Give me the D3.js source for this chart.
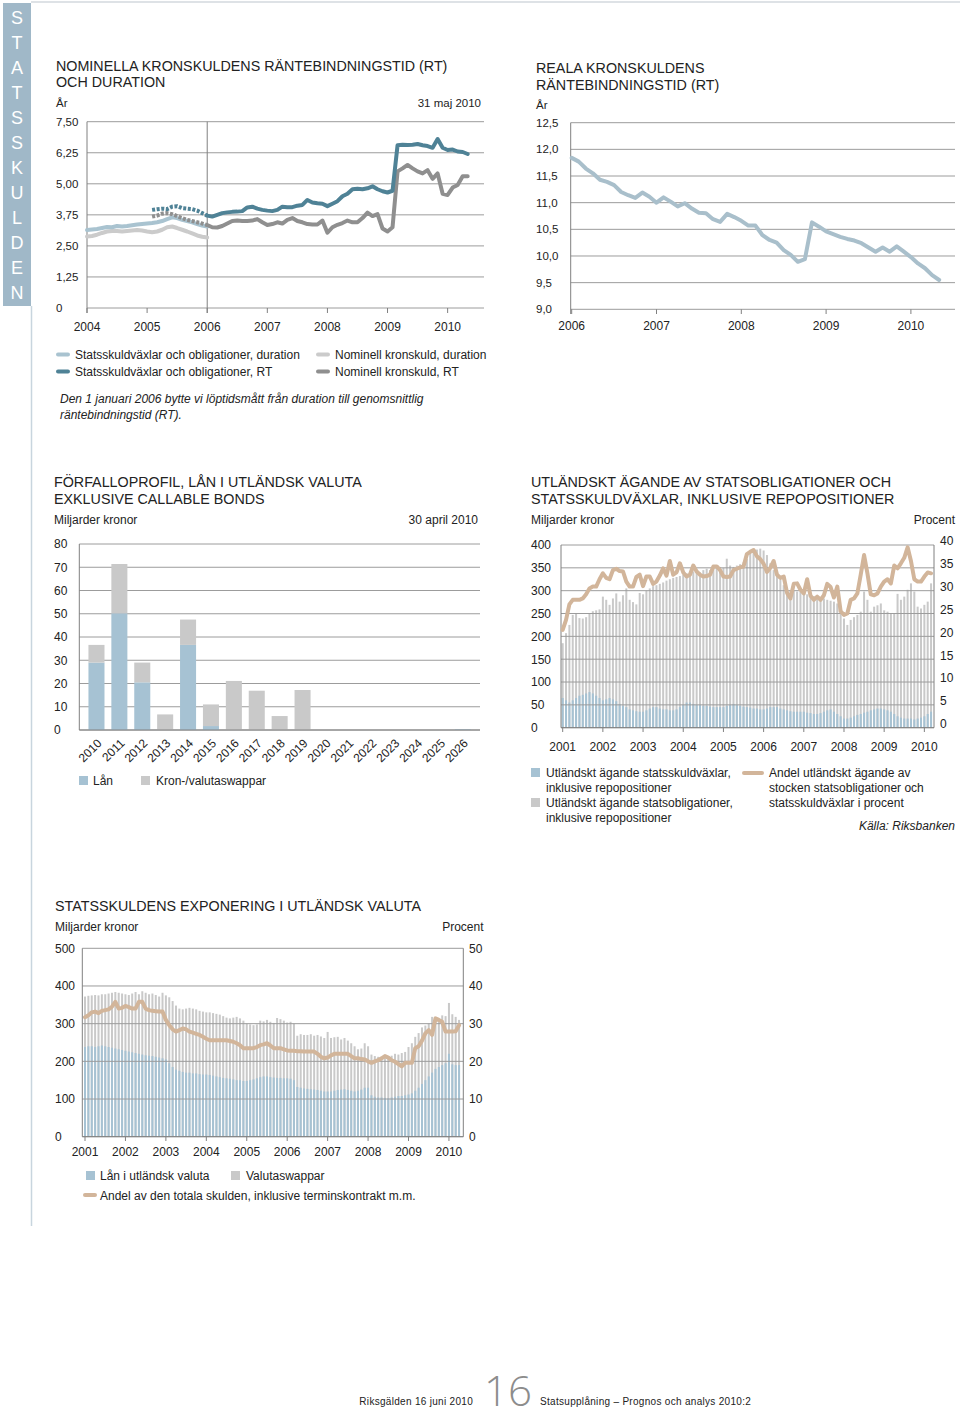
<!DOCTYPE html>
<html><head><meta charset="utf-8">
<script src="https://cdn.jsdelivr.net/npm/d3@7"></script>
<style>
html,body{margin:0;padding:0;background:#fff;}
svg text{font-family:"Liberation Sans", Arial, Helvetica, sans-serif; fill:#222;}
</style></head><body>
<svg id="page" width="960" height="1421"></svg>
<script>
// ---------------- DATA ----------------
const sideLetters = "STATSSKULDEN".split("");

// Chart 1: Nominella kronskuldens räntebindningstid och duration (monthly)
const c1YearTicks = [2004, 2005, 2006, 2007, 2008, 2009, 2010];
const c1ValueTicks = [0, 1.25, 2.5, 3.75, 5, 6.25, 7.5];
const c1ValueLabels = ["0", "1,25", "2,50", "3,75", "5,00", "6,25", "7,50"];
const durationStart = 2004;            // Jan 2004
const bondsDuration = [3.14,3.16,3.18,3.22,3.26,3.25,3.3,3.28,3.3,3.33,3.36,3.38,
  3.4,3.42,3.45,3.5,3.58,3.65,3.62,3.55,3.5,3.45,3.38,3.32,3.28];
const nominalDuration = [2.88,2.9,2.95,3.02,3.08,3.1,3.1,3.08,3.1,3.12,3.14,3.12,
  3.08,3.05,3.08,3.15,3.25,3.28,3.22,3.15,3.08,3.0,2.92,2.87,2.84];
const rtStart = 2005 + 1/12;          // Feb 2005
const rtSwitch = 11;                   // index of Jan 2006
const bondsRT = [3.95,3.98,4.0,3.98,4.08,4.1,4.02,4.0,3.98,3.92,3.82,
  3.72,3.68,3.75,3.82,3.85,3.87,3.88,3.9,4.05,4.08,4.0,3.95,
  3.92,3.9,3.95,4.08,4.06,4.06,4.12,4.15,4.35,4.25,4.22,4.2,
  4.1,4.2,4.3,4.5,4.6,4.78,4.8,4.78,4.82,4.9,4.78,4.7,
  4.65,4.72,6.55,6.57,6.56,6.57,6.6,6.55,6.52,6.45,6.8,6.45,
  6.36,6.38,6.3,6.28,6.2];
const nominalRT = [3.68,3.72,3.8,3.82,3.78,3.7,3.62,3.55,3.5,3.45,3.4,
  3.34,3.25,3.24,3.3,3.4,3.5,3.52,3.5,3.5,3.52,3.58,3.45,
  3.34,3.38,3.45,3.4,3.55,3.62,3.5,3.45,3.38,3.36,3.36,3.52,
  3.03,3.25,3.35,3.42,3.52,3.45,3.45,3.62,3.84,3.7,3.78,3.2,
  3.08,3.25,5.5,5.62,5.76,5.62,5.5,5.42,5.55,5.2,5.42,4.6,
  4.55,4.85,4.95,5.3,5.3];
const c1Legend = [
  ["Statsskuldväxlar och obligationer, duration", "lblue"],
  ["Statsskuldväxlar och obligationer, RT", "teal"],
  ["Nominell kronskuld, duration", "lgrey"],
  ["Nominell kronskuld, RT", "dgrey"]];

// Chart 2: Reala kronskuldens RT (monthly from Jan 2006)
const c2YearTicks = [2006, 2007, 2008, 2009, 2010];
const c2ValueTicks = [9, 9.5, 10, 10.5, 11, 11.5, 12, 12.5];
const c2ValueLabels = ["9,0","9,5","10,0","10,5","11,0","11,5","12,0","12,5"];
const realStart = 2006;
const realRT = [11.84,11.77,11.64,11.55,11.43,11.39,11.33,11.2,11.14,11.09,11.19,11.11,
  11.0,11.1,11.02,10.93,10.99,10.89,10.81,10.8,10.69,10.64,10.79,10.73,
  10.66,10.57,10.57,10.39,10.3,10.25,10.11,10.02,9.89,9.94,10.63,10.55,
  10.46,10.41,10.36,10.32,10.29,10.24,10.16,10.08,10.16,10.08,10.18,10.08,
  9.98,9.86,9.77,9.64,9.55];

// Chart 3: Förfalloprofil
const c3Years = ["2010","2011","2012","2013","2014","2015","2016","2017","2018",
  "2019","2020","2021","2022","2023","2024","2025","2026"];
const c3Loans = [29, 50.2, 20.5, 0, 36.6, 1.7, 0, 0, 0, 0, 0, 0, 0, 0, 0, 0, 0.3];
const c3Swaps = [7.6, 21.2, 8.5, 6.7, 10.9, 9.3, 21.1, 16.9, 6.0, 17.2, 0, 0, 0, 0, 0, 0, 0];
const c3Ticks = [0,10,20,30,40,50,60,70,80];

// Chart 4: Utländskt ägande (monthly Jan 2001 - Mar 2010)
const c4Start = 2001;
const c4YearTicks = [2001,2002,2003,2004,2005,2006,2007,2008,2009,2010];
const c4LeftTicks = [0,50,100,150,200,250,300,350,400];
const c4RightTicks = [0,5,10,15,20,25,30,35,40];
const c4Bonds = [185,207,225,247,250,240,239,242,251,255,257,259,
  287,280,269,283,294,276,290,305,280,275,270,295,
  292,300,305,310,312,315,318,322,325,328,330,332,
  335,338,340,342,343,340,345,348,345,347,350,352,
  350,370,355,352,355,358,362,370,385,390,390,392,
  388,378,360,345,335,324,312,302,300,300,298,298,
  295,292,290,288,285,283,283,280,278,276,272,262,
  239,225,236,242,247,254,298,280,254,265,268,272,
  257,254,250,250,293,280,287,302,316,298,265,261,
  269,276,316];
const c4Bills = [65,60,55,60,65,70,72,75,78,75,70,65,
  60,62,65,62,58,52,48,45,40,38,36,35,
  35,38,42,45,45,42,40,40,38,38,40,45,
  50,55,55,52,50,50,48,48,46,45,45,45,
  45,48,50,52,50,48,46,45,44,42,42,40,
  40,42,45,45,45,42,40,38,36,35,35,35,
  35,33,32,30,30,32,35,38,40,35,30,25,
  20,20,22,25,28,30,33,35,38,40,42,42,
  40,38,35,30,25,22,20,20,20,18,20,22,
  25,30,35];
const c4Share = [21.4,23.6,27.0,28.0,28.0,28.0,28.3,29.2,30.5,30.9,30.9,32.5,
  33.8,32.8,32.5,34.5,34.8,34.3,34.2,32.0,30.9,30.9,33.0,33.5,
  31.0,33.1,33.1,31.5,32.0,33.3,34.9,33.3,36.5,33.5,34.0,36.0,
  34.0,33.1,33.5,35.5,34.2,33.5,33.1,33.2,33.5,35.3,35.3,34.5,
  33.1,33.0,33.1,34.5,34.8,35.1,35.3,38.0,38.5,38.9,37.5,36.9,
  35.9,34.1,35.0,36.5,33.5,32.8,33.1,29.5,28.3,31.5,31.6,30.2,
  29.4,32.5,28.9,28.0,28.7,28.0,29.0,31.5,30.8,28.5,30.9,25.5,
  24.7,25.0,28.0,28.3,29.4,33.5,37.8,33.8,29.2,29.0,29.4,30.9,
  32.0,32.5,31.6,35.5,34.9,36.0,37.2,39.5,36.5,32.5,32.0,32.0,
  33.1,34.0,33.8];

// Chart 5: Exponering i utländsk valuta (monthly Jan 2001 - Apr 2010)
const c5Start = 2001;
const c5YearTicks = [2001,2002,2003,2004,2005,2006,2007,2008,2009,2010];
const c5LeftTicks = [0,100,200,300,400,500];
const c5RightTicks = [0,10,20,30,40,50];
const c5Total = [372,374,375,376,375,378,378,380,382,384,382,380,
  378,376,380,384,378,386,382,378,380,376,372,382,
  375,370,360,348,340,338,340,342,340,338,334,332,
  330,330,328,326,324,320,316,314,316,318,314,308,
  300,298,296,298,308,306,310,305,302,315,312,308,
  303,305,300,268,272,270,270,272,268,270,266,262,
  278,262,264,265,258,262,255,248,240,232,234,248,
  240,218,214,212,210,212,210,215,220,218,222,225,
  238,248,265,275,290,295,300,318,315,312,322,320,
  355,325,318,310];
const c5Loans = [238,240,240,238,240,242,240,238,236,234,232,230,
  228,226,224,222,220,218,216,215,214,212,210,208,
  205,195,185,178,175,172,170,170,168,168,166,165,
  165,164,162,160,158,156,155,154,152,150,150,148,
  148,150,152,155,158,160,160,158,157,156,156,155,
  155,154,150,132,130,128,127,126,125,124,122,120,
  120,120,122,124,125,126,124,122,120,122,125,130,
  130,110,106,104,104,103,102,104,106,108,108,110,
  112,115,122,130,140,150,160,170,180,185,190,195,
  220,192,190,190];
const c5Share = [31.7,32.2,33.0,33.2,32.8,33.4,33.6,33.8,34.5,35.8,34.0,34.2,
  34.7,34.4,34.0,34.0,35.8,35.8,34.0,33.6,33.4,33.3,33.2,33.2,
  31.0,29.6,28.5,27.9,28.3,28.7,28.5,27.9,27.6,27.3,27.0,26.5,
  26.0,25.6,25.6,25.6,25.6,25.6,25.6,25.4,25.2,24.8,24.3,23.5,
  23.5,23.5,23.5,23.8,24.3,24.5,24.8,24.2,23.5,23.5,23.5,23.2,
  22.9,22.8,22.8,22.7,22.7,22.6,22.6,22.6,22.6,22.0,21.2,20.8,
  21.0,21.6,22.0,22.0,22.0,22.0,22.0,21.4,20.8,20.8,20.6,20.5,
  20.0,19.6,20.0,20.3,20.8,21.4,21.0,20.3,19.9,19.3,18.7,19.6,
  19.6,19.6,23.5,24.0,25.5,27.4,28.3,27.0,31.4,31.0,30.5,27.9,
  27.9,27.9,28.0,29.6];

// ---------------- STYLE ----------------
const COL = {
  grid: "#9c9c9c", axis: "#808080",
  teal: "#4f8296", dgrey: "#8f8f8f", lblue: "#a9c3d0", lgrey: "#cbcbcb",
  real: "#a9bfcb", barBlue: "#a6c2d3", barGrey: "#c9c9c9", tan: "#d2b59a",
  side: "#a0b8c8"
};
const svg = d3.select("#page");

function txt(x, y, s, o = {}) {
  const t = svg.append("text").attr("x", x).attr("y", y).text(s)
    .attr("font-size", o.size || 12);
  if (o.anchor) t.attr("text-anchor", o.anchor);
  if (o.italic) t.attr("font-style", "italic");
  if (o.fill) t.style("fill", o.fill);
  if (o.family) t.style("font-family", o.family);
  if (o.weight) t.attr("font-weight", o.weight);
  if (o.ls) t.attr("letter-spacing", o.ls);
  return t;
}
function hline(x1, x2, y, c, w = 1) {
  svg.append("line").attr("x1", x1).attr("x2", x2).attr("y1", y).attr("y2", y)
    .attr("stroke", c).attr("stroke-width", w);
}
function vline(x, y1, y2, c, w = 1) {
  svg.append("line").attr("x1", x).attr("x2", x).attr("y1", y1).attr("y2", y2)
    .attr("stroke", c).attr("stroke-width", w);
}
function monthly(arr, start) { return arr.map((v, i) => ({t: start + i / 12, v})); }
function drawLine(data, x, y, color, w, dash) {
  const p = svg.append("path").datum(data)
    .attr("d", d3.line().x(d => x(d.t)).y(d => y(d.v)))
    .attr("fill", "none").attr("stroke", color).attr("stroke-width", w)
    .attr("stroke-linejoin", "round").attr("stroke-linecap", dash ? "butt" : "round");
  if (dash) p.attr("stroke-dasharray", dash);
}
const TITLE = 14.3;

// ---------------- PAGE FRAME ----------------
svg.append("rect").attr("x", 3).attr("y", 3).attr("width", 28).attr("height", 303).attr("fill", COL.side);
hline(31, 960, 2, "#d3d9de", 1.5);
vline(31.5, 306, 1226, "#c8d5de", 1.5);
sideLetters.forEach((ch, i) => {
  txt(17, 18 + i * 25, ch, {size: 18, anchor: "middle", fill: "#fff"}).attr("dy", "0.36em");
});

// ---------------- CHART 1 ----------------
{
  const x = d3.scaleLinear().domain([2004, 2010.6]).range([87, 483.7]);
  const y = d3.scaleLinear().domain([0, 7.5]).range([308, 121.7]);
  txt(56, 70.5, "NOMINELLA KRONSKULDENS RÄNTEBINDNINGSTID (RT)", {size: TITLE});
  txt(56, 86.5, "OCH DURATION", {size: TITLE});
  txt(56, 106.5, "År", {size: 11.5});
  txt(481, 106.5, "31 maj 2010", {size: 11.5, anchor: "end"});
  c1ValueTicks.forEach((v, i) => {
    hline(87, 484, y(v), COL.grid);
    txt(56, y(v), c1ValueLabels[i], {size: 11.5}).attr("dy", "0.36em");
  });
  vline(87, y(7.5), 313, COL.axis);
  vline(x(2006), y(7.5), 313, COL.axis);
  c1YearTicks.forEach(yr => {
    vline(x(yr), 308, 313, COL.axis);
    txt(x(yr), 330.5, String(yr), {size: 12, anchor: "middle"});
  });
  drawLine(monthly(nominalDuration, durationStart), x, y, COL.lgrey, 4);
  drawLine(monthly(bondsDuration, durationStart), x, y, COL.lblue, 4);
  const nRT = monthly(nominalRT, rtStart), bRT = monthly(bondsRT, rtStart);
  drawLine(nRT.slice(0, rtSwitch + 1), x, y, COL.dgrey, 4, "3,1.6");
  drawLine(nRT.slice(rtSwitch), x, y, COL.dgrey, 4);
  drawLine(bRT.slice(0, rtSwitch + 1), x, y, COL.teal, 4, "3,1.6");
  drawLine(bRT.slice(rtSwitch), x, y, COL.teal, 4);

  // legend
  c1Legend.forEach((d, i) => {
    const lx = i < 2 ? 58 : 318, ly = i % 2 === 0 ? 354.5 : 371.5;
    svg.append("line").attr("x1", lx).attr("x2", lx + 10).attr("y1", ly).attr("y2", ly)
      .attr("stroke", COL[d[1]]).attr("stroke-width", 4).attr("stroke-linecap", "round");
    txt(lx + 17, ly, d[0], {size: 12}).attr("dy", "0.36em");
  });
  txt(60, 403, "Den 1 januari 2006 bytte vi löptidsmått från duration till genomsnittlig", {size: 12, italic: true});
  txt(60, 419, "räntebindningstid (RT).", {size: 12, italic: true});
}

// ---------------- CHART 2 ----------------
{
  const x = d3.scaleLinear().domain([2006, 2010.52]).range([571.7, 955]);
  const y = d3.scaleLinear().domain([9, 12.5]).range([309.3, 122.7]);
  txt(536, 72.5, "REALA KRONSKULDENS", {size: TITLE});
  txt(536, 90, "RÄNTEBINDNINGSTID (RT)", {size: TITLE});
  txt(536, 109, "År", {size: 11.5});
  c2ValueTicks.forEach((v, i) => {
    hline(570.7, 955, y(v), COL.grid);
    txt(536, y(v), c2ValueLabels[i], {size: 11.5}).attr("dy", "0.36em");
  });
  vline(570.7, y(12.5), 314, COL.axis);
  c2YearTicks.forEach(yr => {
    vline(x(yr), 309.3, 314, COL.axis);
    txt(x(yr), 329.5, String(yr), {size: 12, anchor: "middle"});
  });
  drawLine(monthly(realRT, realStart), x, y, COL.real, 4);
}

// ---------------- CHART 3 ----------------
{
  const x = d3.scaleBand().domain(c3Years).range([79.3, 480]).paddingInner(0.3).paddingOuter(0.4);
  const y = d3.scaleLinear().domain([0, 80]).range([730, 544]);
  txt(54, 487, "FÖRFALLOPROFIL, LÅN I UTLÄNDSK VALUTA", {size: TITLE});
  txt(54, 504, "EXKLUSIVE CALLABLE BONDS", {size: TITLE});
  txt(54, 524, "Miljarder kronor", {size: 12});
  txt(478, 524, "30 april 2010", {size: 12, anchor: "end"});
  c3Ticks.forEach(v => {
    hline(79.3, 480, y(v), COL.grid);
    txt(54, y(v), String(v), {size: 12}).attr("dy", "0.36em");
  });
  vline(79.3, y(80), y(0), COL.axis);
  const stack = c3Years.map((yr, i) => ({yr, loan: c3Loans[i], swap: c3Swaps[i]}));
  svg.append("g").selectAll("rect.l").data(stack).join("rect")
    .attr("x", d => x(d.yr)).attr("width", x.bandwidth())
    .attr("y", d => y(d.loan)).attr("height", d => y(0) - y(d.loan))
    .attr("fill", COL.barBlue);
  svg.append("g").selectAll("rect.s").data(stack).join("rect")
    .attr("x", d => x(d.yr)).attr("width", x.bandwidth())
    .attr("y", d => y(d.loan + d.swap)).attr("height", d => y(d.loan) - y(d.loan + d.swap))
    .attr("fill", COL.barGrey);
  hline(79.3, 480, y(0), COL.axis);
  c3Years.forEach(yr => {
    const cx = x(yr) + x.bandwidth() / 2 + 6, cy = 744;
    txt(cx, cy, yr, {size: 12, anchor: "end"}).attr("transform", `rotate(-45,${cx},${cy})`);
  });
  svg.append("rect").attr("x", 79).attr("y", 776).attr("width", 9).attr("height", 9).attr("fill", COL.barBlue);
  txt(93, 785, "Lån", {size: 12});
  svg.append("rect").attr("x", 141).attr("y", 776).attr("width", 9).attr("height", 9).attr("fill", COL.barGrey);
  txt(156, 785, "Kron-/valutaswappar", {size: 12});
}

// ---------------- CHART 4 ----------------
{
  const x = d3.scaleLinear().domain([2000.958, 2010.24]).range([561, 934]);
  const y = d3.scaleLinear().domain([0, 400]).range([727.7, 545]);
  const yp = d3.scaleLinear().domain([0, 40]).range([727.7, 545]);
  txt(531, 487, "UTLÄNDSKT ÄGANDE AV STATSOBLIGATIONER OCH", {size: TITLE});
  txt(531, 504, "STATSSKULDVÄXLAR, INKLUSIVE REPOPOSITIONER", {size: TITLE});
  txt(531, 524, "Miljarder kronor", {size: 12});
  txt(955, 524, "Procent", {size: 12, anchor: "end"});
  const bars = c4Bonds.map((v, i) => ({t: c4Start + i / 12, total: v, bills: c4Bills[i]}));
  svg.append("g").selectAll("rect").data(bars).join("rect")
    .attr("x", d => x(d.t) - 1).attr("width", 2)
    .attr("y", d => y(d.total)).attr("height", d => y(0) - y(d.total)).attr("fill", COL.barGrey);
  svg.append("g").selectAll("rect").data(bars).join("rect")
    .attr("x", d => x(d.t) - 1).attr("width", 2)
    .attr("y", d => y(d.bills)).attr("height", d => y(0) - y(d.bills)).attr("fill", COL.barBlue);
  c4LeftTicks.forEach(v => {
    hline(561, 934, y(v), COL.grid);
    txt(531, y(v), String(v), {size: 12}).attr("dy", "0.36em");
  });
  c4RightTicks.forEach(v => {
    txt(940, yp(v) - 4, String(v), {size: 12}).attr("dy", "0.36em");
  });
  vline(561, 545, 727.7, COL.axis);
  vline(934, 545, 727.7, COL.axis);
  hline(561, 934, 727.7, COL.axis);
  c4YearTicks.forEach(yr => {
    vline(x(yr), 727.7, 732, COL.axis);
    txt(x(yr), 750.5, String(yr), {size: 12, anchor: "middle"});
  });
  drawLine(monthly(c4Share, c4Start), x, yp, COL.tan, 4);
  // legend
  svg.append("rect").attr("x", 531).attr("y", 768).attr("width", 9).attr("height", 9).attr("fill", COL.barBlue);
  svg.append("rect").attr("x", 531).attr("y", 798).attr("width", 9).attr("height", 9).attr("fill", COL.barGrey);
  txt(546, 777, "Utländskt ägande statsskuldväxlar,", {size: 12});
  txt(546, 792, "inklusive repopositioner", {size: 12});
  txt(546, 807, "Utländskt ägande statsobligationer,", {size: 12});
  txt(546, 822, "inklusive repopositioner", {size: 12});
  svg.append("line").attr("x1", 744).attr("x2", 762).attr("y1", 773).attr("y2", 773)
    .attr("stroke", COL.tan).attr("stroke-width", 4).attr("stroke-linecap", "round");
  txt(769, 777, "Andel utländskt ägande av", {size: 12});
  txt(769, 792, "stocken statsobligationer och", {size: 12});
  txt(769, 807, "statsskuldväxlar i procent", {size: 12});
  txt(955, 830, "Källa: Riksbanken", {size: 12, anchor: "end", italic: true});
}

// ---------------- CHART 5 ----------------
{
  const x = d3.scaleLinear().domain([2000.933, 2010.355]).range([82.3, 463.3]);
  const y = d3.scaleLinear().domain([0, 500]).range([1136.7, 948.3]);
  const yp = d3.scaleLinear().domain([0, 50]).range([1136.7, 948.3]);
  txt(55, 911, "STATSSKULDENS EXPONERING I UTLÄNDSK VALUTA", {size: TITLE});
  txt(55, 930.5, "Miljarder kronor", {size: 12});
  txt(483.5, 930.5, "Procent", {size: 12, anchor: "end"});
  const bars = c5Total.map((v, i) => ({t: c5Start + i / 12, total: v, loans: c5Loans[i]}));
  svg.append("g").selectAll("rect").data(bars).join("rect")
    .attr("x", d => x(d.t) - 1).attr("width", 2)
    .attr("y", d => y(d.total)).attr("height", d => y(0) - y(d.total)).attr("fill", COL.barGrey);
  svg.append("g").selectAll("rect").data(bars).join("rect")
    .attr("x", d => x(d.t) - 1).attr("width", 2)
    .attr("y", d => y(d.loans)).attr("height", d => y(0) - y(d.loans)).attr("fill", COL.barBlue);
  c5LeftTicks.forEach(v => {
    hline(82.3, 463.3, y(v), COL.grid);
    txt(55, y(v), String(v), {size: 12}).attr("dy", "0.36em");
  });
  c5RightTicks.forEach(v => {
    txt(469, yp(v), String(v), {size: 12}).attr("dy", "0.36em");
  });
  vline(82.3, 948.3, 1136.7, COL.axis);
  vline(463.3, 948.3, 1136.7, COL.axis);
  hline(82.3, 463.3, 1136.7, COL.axis);
  c5YearTicks.forEach(yr => {
    vline(x(yr), 1136.7, 1141, COL.axis);
    txt(x(yr), 1155.5, String(yr), {size: 12, anchor: "middle"});
  });
  drawLine(monthly(c5Share, c5Start), x, yp, COL.tan, 4);
  svg.append("rect").attr("x", 86).attr("y", 1171).attr("width", 9).attr("height", 9).attr("fill", COL.barBlue);
  txt(100, 1180, "Lån i utländsk valuta", {size: 12});
  svg.append("rect").attr("x", 231).attr("y", 1171).attr("width", 9).attr("height", 9).attr("fill", COL.barGrey);
  txt(246, 1180, "Valutaswappar", {size: 12});
  svg.append("line").attr("x1", 85).attr("x2", 95).attr("y1", 1195).attr("y2", 1195)
    .attr("stroke", COL.tan).attr("stroke-width", 4).attr("stroke-linecap", "round");
  txt(100, 1199.5, "Andel av den totala skulden, inklusive terminskontrakt m.m.", {size: 12});
}

// ---------------- FOOTER ----------------
txt(473, 1405, "Riksgälden 16 juni 2010", {size: 10, anchor: "end", ls: 0.3});
txt(484, 1406, "16", {size: 42, fill: "#8c8c8c", family: "'Open Sans', 'Liberation Sans', sans-serif", weight: 300});
txt(540, 1405, "Statsupplåning – Prognos och analys 2010:2", {size: 10, ls: 0.3});
</script></body></html>
